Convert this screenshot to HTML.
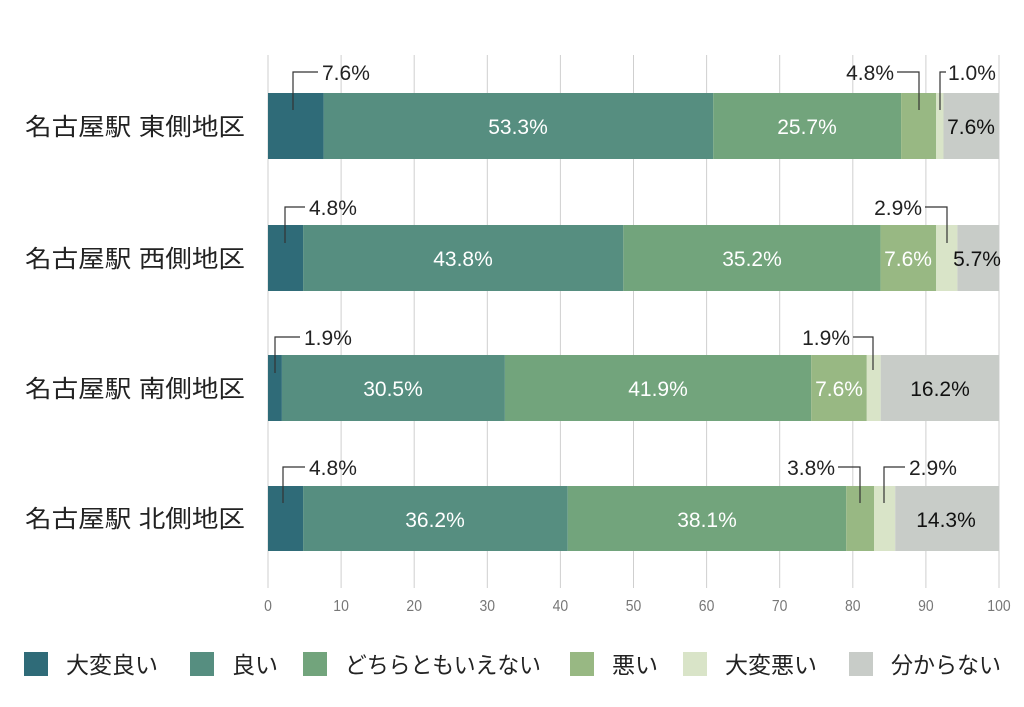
<!DOCTYPE html>
<html><head><meta charset="utf-8"><style>
body{margin:0;background:#fff;}
svg text{font-family:"Liberation Sans","Noto Sans CJK JP",sans-serif;}
</style></head><body>
<svg width="1024" height="702" viewBox="0 0 1024 702" xmlns="http://www.w3.org/2000/svg">
<g stroke="#cfcfcf" stroke-width="1">
<line x1="268" y1="55" x2="268" y2="588"/><line x1="341.1" y1="55" x2="341.1" y2="588"/><line x1="414.2" y1="55" x2="414.2" y2="588"/><line x1="487.3" y1="55" x2="487.3" y2="588"/><line x1="560.4" y1="55" x2="560.4" y2="588"/><line x1="633.5" y1="55" x2="633.5" y2="588"/><line x1="706.6" y1="55" x2="706.6" y2="588"/><line x1="779.7" y1="55" x2="779.7" y2="588"/><line x1="852.8" y1="55" x2="852.8" y2="588"/><line x1="925.9" y1="55" x2="925.9" y2="588"/><line x1="999" y1="55" x2="999" y2="588"/>
</g>
<g font-size="14" fill="#777" text-anchor="middle" transform="translate(0,611) scale(1,1.15)">
<text x="268" y="0">0</text><text x="341.1" y="0">10</text><text x="414.2" y="0">20</text><text x="487.3" y="0">30</text><text x="560.4" y="0">40</text><text x="633.5" y="0">50</text><text x="706.6" y="0">60</text><text x="779.7" y="0">70</text><text x="852.8" y="0">80</text><text x="925.9" y="0">90</text><text x="999" y="0">100</text>
</g>
<g>
<rect x="268" y="93" width="55.6" height="66" fill="#2f6b78"/>
<rect x="323.6" y="93" width="389.6" height="66" fill="#568e80"/>
<rect x="713.2" y="93" width="187.9" height="66" fill="#72a47c"/>
<rect x="901.1" y="93" width="35.1" height="66" fill="#98b883"/>
<rect x="936.2" y="93" width="7.3" height="66" fill="#d9e4c8"/>
<rect x="943.5" y="93" width="55.5" height="66" fill="#c8ccc8"/>
</g>
<g>
<rect x="268" y="225" width="35.1" height="66" fill="#2f6b78"/>
<rect x="303.1" y="225" width="320.2" height="66" fill="#568e80"/>
<rect x="623.3" y="225" width="257.3" height="66" fill="#72a47c"/>
<rect x="880.6" y="225" width="55.6" height="66" fill="#98b883"/>
<rect x="936.2" y="225" width="21.2" height="66" fill="#d9e4c8"/>
<rect x="957.4" y="225" width="41.6" height="66" fill="#c8ccc8"/>
</g>
<g>
<rect x="268" y="355" width="13.9" height="66" fill="#2f6b78"/>
<rect x="281.9" y="355" width="223" height="66" fill="#568e80"/>
<rect x="504.9" y="355" width="306.3" height="66" fill="#72a47c"/>
<rect x="811.2" y="355" width="55.6" height="66" fill="#98b883"/>
<rect x="866.8" y="355" width="13.9" height="66" fill="#d9e4c8"/>
<rect x="880.7" y="355" width="118.3" height="66" fill="#c8ccc8"/>
</g>
<g>
<rect x="268" y="486" width="35.1" height="65" fill="#2f6b78"/>
<rect x="303.1" y="486" width="264.6" height="65" fill="#568e80"/>
<rect x="567.7" y="486" width="278.5" height="65" fill="#72a47c"/>
<rect x="846.2" y="486" width="27.8" height="65" fill="#98b883"/>
<rect x="874" y="486" width="21.2" height="65" fill="#d9e4c8"/>
<rect x="895.2" y="486" width="103.8" height="65" fill="#c8ccc8"/>
</g>
<g font-size="24" fill="#222">
<text x="25" y="135" textLength="220" lengthAdjust="spacingAndGlyphs">名古屋駅 東側地区</text>
<text x="25" y="267" textLength="220" lengthAdjust="spacingAndGlyphs">名古屋駅 西側地区</text>
<text x="25" y="397" textLength="220" lengthAdjust="spacingAndGlyphs">名古屋駅 南側地区</text>
<text x="25" y="527" textLength="220" lengthAdjust="spacingAndGlyphs">名古屋駅 北側地区</text>
</g>
<g font-size="21" fill="#fff" text-anchor="middle">
<text x="518" y="134">53.3%</text><text x="807" y="134">25.7%</text>
<text x="463" y="266">43.8%</text><text x="752" y="266">35.2%</text><text x="908" y="266">7.6%</text>
<text x="393" y="396">30.5%</text><text x="658" y="396">41.9%</text><text x="839" y="396">7.6%</text>
<text x="435" y="527">36.2%</text><text x="707" y="527">38.1%</text>
</g>
<g font-size="21" fill="#111" text-anchor="middle">
<text x="971" y="134">7.6%</text><text x="977" y="266">5.7%</text><text x="940" y="396">16.2%</text><text x="946" y="527">14.3%</text>
</g>
<g stroke="#333" stroke-width="1.2" fill="none">
<polyline points="293,110 293,72 318,72"/>
<polyline points="919,110 919,72 897,72"/>
<polyline points="940,110 940,72 946,72"/>
<polyline points="285,243 285,207 305,207"/>
<polyline points="947,243 947,207 925,207"/>
<polyline points="275,373 275,337 300,337"/>
<polyline points="873,370 873,337 853,337"/>
<polyline points="283,503 283,467 305,467"/>
<polyline points="860,503 860,467 838,467"/>
<polyline points="884,503 884,467 905,467"/>
</g>
<g font-size="21" fill="#222">
<text x="322" y="80">7.6%</text>
<text x="948" y="80">1.0%</text>
<text x="309" y="215">4.8%</text>
<text x="304" y="345">1.9%</text>
<text x="309" y="475">4.8%</text>
<text x="909" y="475">2.9%</text>
</g>
<g font-size="21" fill="#222" text-anchor="end">
<text x="894" y="80">4.8%</text>
<text x="922" y="215">2.9%</text>
<text x="850" y="345">1.9%</text>
<text x="835" y="475">3.8%</text>
</g>
<g>
<rect x="24" y="652" width="24" height="24" fill="#2f6b78"/>
<rect x="190" y="652" width="24" height="24" fill="#568e80"/>
<rect x="303" y="652" width="24" height="24" fill="#72a47c"/>
<rect x="570" y="652" width="24" height="24" fill="#98b883"/>
<rect x="683" y="652" width="24" height="24" fill="#d9e4c8"/>
<rect x="849" y="652" width="24" height="24" fill="#c8ccc8"/>
</g>
<g font-size="23" fill="#222">
<text x="66" y="673">大変良い</text>
<text x="232" y="673">良い</text>
<text x="345" y="673" textLength="196" lengthAdjust="spacingAndGlyphs">どちらともいえない</text>
<text x="612" y="673">悪い</text>
<text x="725" y="673">大変悪い</text>
<text x="891" y="673" textLength="110" lengthAdjust="spacingAndGlyphs">分からない</text>
</g>
</svg>
</body></html>
